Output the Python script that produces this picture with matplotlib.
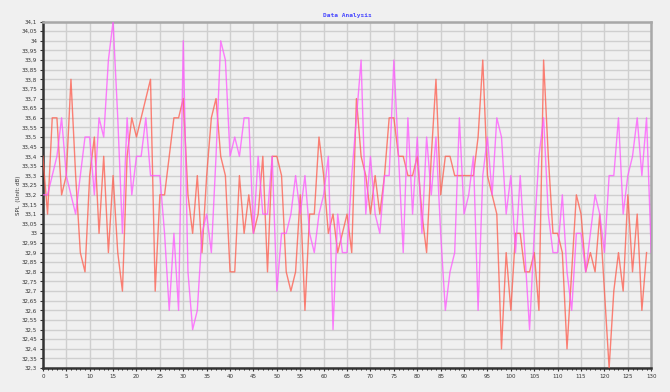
import matplotlib.pyplot as plt
import numpy as np
from matplotlib.ticker import MultipleLocator, FuncFormatter

# SPL readings, two channels
spl_a = [33.4, 33.1, 33.6, 33.6, 33.2, 33.3, 33.8, 33.3, 32.9, 32.8,
         33.3, 33.5, 33.0, 33.4, 32.9, 33.3, 32.9, 32.7, 33.4, 33.6,
         33.5, 33.6, 33.7, 33.8, 32.7, 33.2, 33.2, 33.4, 33.6, 33.6,
         33.7, 33.2, 33.0, 33.3, 32.9, 33.3, 33.6, 33.7, 33.4, 33.3,
         32.8, 32.8, 33.3, 33.0, 33.2, 33.0, 33.1, 33.4, 32.8, 33.4,
         33.4, 33.3, 32.8, 32.7, 32.8, 33.2, 32.6, 33.1, 33.1, 33.5,
         33.3, 33.0, 33.1, 32.9, 33.0, 33.1, 32.9, 33.7, 33.4, 33.3,
         33.1, 33.3, 33.1, 33.3, 33.6, 33.6, 33.4, 33.4, 33.3, 33.3,
         33.4, 33.1, 32.9, 33.4, 33.8, 33.2, 33.4, 33.4, 33.3, 33.3,
         33.3, 33.3, 33.3, 33.5, 33.9, 33.3, 33.2, 33.1, 32.4, 32.9,
         32.6, 33.0, 33.0, 32.8, 32.8, 32.9, 32.6, 33.9, 33.4, 33.0,
         33.0, 32.9, 32.4, 32.8, 33.2, 33.1, 32.8, 32.9, 32.8, 33.1,
         32.7, 32.3, 32.7, 32.9, 32.7, 33.2, 32.8, 33.1, 32.6, 32.9]

spl_b = [33.2, 33.2, 33.3, 33.4, 33.6, 33.3, 33.2, 33.1, 33.3, 33.5,
         33.5, 33.2, 33.6, 33.5, 33.9, 34.1, 33.6, 33.0, 33.6, 33.2,
         33.4, 33.4, 33.6, 33.3, 33.3, 33.3, 33.0, 32.6, 33.0, 32.6,
         34.0, 32.8, 32.5, 32.6, 33.0, 33.1, 32.9, 33.4, 34.0, 33.9,
         33.4, 33.5, 33.4, 33.6, 33.6, 33.0, 33.4, 33.1, 33.1, 33.4,
         32.7, 33.0, 33.0, 33.1, 33.3, 33.1, 33.3, 33.0, 32.9, 33.1,
         33.2, 33.4, 32.5, 33.1, 32.9, 32.9, 33.3, 33.6, 33.9, 33.1,
         33.4, 33.1, 33.0, 33.3, 33.3, 33.9, 33.4, 32.9, 33.6, 33.1,
         33.5, 33.0, 33.5, 33.2, 33.5, 33.0, 32.6, 32.8, 32.9, 33.6,
         33.1, 33.2, 33.4, 32.6, 33.3, 33.5, 33.2, 33.6, 33.5, 33.1,
         33.3, 32.9, 33.3, 32.9, 32.5, 33.0, 33.4, 33.6, 33.1, 32.9,
         32.9, 33.2, 32.8, 32.6, 33.0, 33.0, 32.8, 33.0, 33.2, 33.1,
         32.9, 33.3, 33.3, 33.6, 33.1, 33.3, 33.4, 33.6, 33.3, 33.6,
         32.9]

bg = '#f0f0f0'
fig = plt.figure(figsize=(6.7, 3.92), dpi=100, facecolor=bg)
ax = fig.add_axes([0.064, 0.061, 0.908, 0.884], facecolor=bg)

ax.plot(np.arange(len(spl_a)), spl_a, color='#ff5a4a', alpha=0.75, lw=1, zorder=3)
ax.plot(np.arange(len(spl_b)), spl_b, color='#ff55ff', alpha=0.75, lw=1, zorder=3)

ax.set_xlim(0, 130)
ax.set_ylim(32.3, 34.1)
ax.xaxis.set_major_locator(MultipleLocator(5))
ax.xaxis.set_minor_locator(MultipleLocator(1))
ax.yaxis.set_major_locator(MultipleLocator(0.05))
ax.yaxis.set_major_formatter(FuncFormatter(lambda v, p: ('%.2f' % v).rstrip('0').rstrip('.').replace('.', ',')))
ax.grid(True, which='major', color='#cfcfcf', lw=1, zorder=0)
ax.tick_params(labelsize=4, length=2.5, width=0.8, pad=1.5, colors='#333333')
ax.tick_params(which='minor', length=1.5, width=0.6)

for s in ['left', 'bottom']:
    ax.spines[s].set_color('#333333')
    ax.spines[s].set_linewidth(1.8)
for s in ['top', 'right']:
    ax.spines[s].set_color('#a8a8a8')
    ax.spines[s].set_linewidth(1.8)

ax.set_ylabel('SPL  (Unit: dB)', fontsize=4, color='#333333')
ax.yaxis.set_label_coords(-0.036, 0.5)
ax.set_title('Data Analysis', fontsize=4.5, color='#4a4aff', family='DejaVu Sans Mono',
             fontweight='bold', pad=3)

fig.savefig('out.png', dpi=100, facecolor=bg)
